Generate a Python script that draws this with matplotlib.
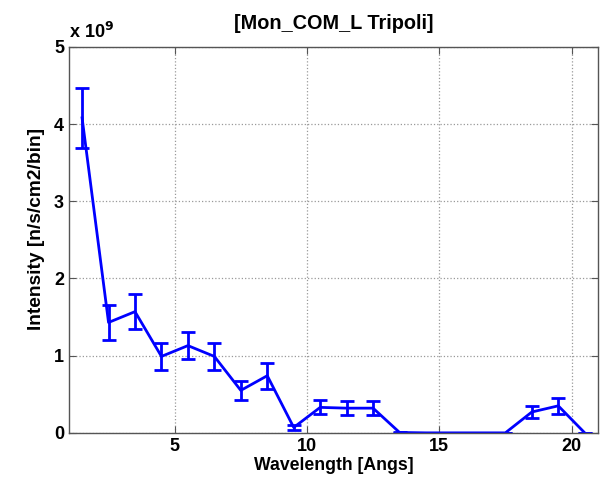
import matplotlib
matplotlib.use("Agg")
import matplotlib.pyplot as plt
from matplotlib.ticker import FuncFormatter

wavelength = [1.5, 2.5, 3.5, 4.5, 5.5, 6.5, 7.5, 8.5, 9.5, 10.5, 11.5, 12.5,
              13.5, 14.5, 15.5, 16.5, 17.5, 18.5, 19.5, 20.5]
intensity = [4.08e9, 1.43e9, 1.57e9, 0.99e9, 1.13e9, 0.99e9, 0.55e9, 0.74e9,
             0.07e9, 0.33e9, 0.32e9, 0.32e9, 0.005e9, 0.0, 0.0, 0.0, 0.0,
             0.27e9, 0.35e9, 0.0]
errors = [0.39e9, 0.23e9, 0.23e9, 0.17e9, 0.17e9, 0.17e9, 0.12e9, 0.17e9,
          0.03e9, 0.09e9, 0.09e9, 0.09e9, 0.005e9, 0.0, 0.0, 0.0, 0.0,
          0.08e9, 0.10e9, 0.0]
xticks = [5, 10, 15, 20]
yticks = [0, 1e9, 2e9, 3e9, 4e9, 5e9]

plt.rcParams['font.family'] = ['Liberation Sans', 'DejaVu Sans']
plt.rcParams['font.weight'] = 'bold'

fig = plt.figure(figsize=(6.04, 4.93), dpi=100)
ax = fig.add_axes([0.114, 0.122, 0.876, 0.783])

ax.errorbar(wavelength, intensity, yerr=errors, color=(0, 0, 1), lw=2,
            elinewidth=2, capsize=5, capthick=2)

ax.set_xlim(1, 21)
ax.set_ylim(0, 5e9)
ax.set_xticks(xticks)
ax.set_yticks(yticks)
ax.yaxis.set_major_formatter(FuncFormatter(lambda v, p: f"{v/1e9:g}"))
ax.tick_params(direction='in', labelsize=13, top=True, right=True,
               length=5, color='#555555')
for lbl in ax.get_xticklabels() + ax.get_yticklabels():
    lbl.set_fontweight('bold')
ax.grid(True, linestyle=':', color='#999999', linewidth=0.9)
for s in ax.spines.values():
    s.set_color('#555555')
    s.set_linewidth(1.0)

ax.set_xlabel('Wavelength [Angs]', fontsize=12.7, fontweight='bold', labelpad=2)
ax.set_ylabel('Intensity [n/s/cm2/bin]', fontsize=13.8, fontweight='bold', labelpad=4)
ax.yaxis.set_label_coords(-0.045, 0.528)
ax.set_title('[Mon_COM_L Tripoli]', fontsize=14.3, fontweight='bold', pad=13)
ax.text(0.0, 1.012, r'x 10$^{\mathbf{9}}$', transform=ax.transAxes, fontsize=13,
        fontweight='bold', ha='left', va='bottom')

fig.savefig('out.png', dpi=100)
